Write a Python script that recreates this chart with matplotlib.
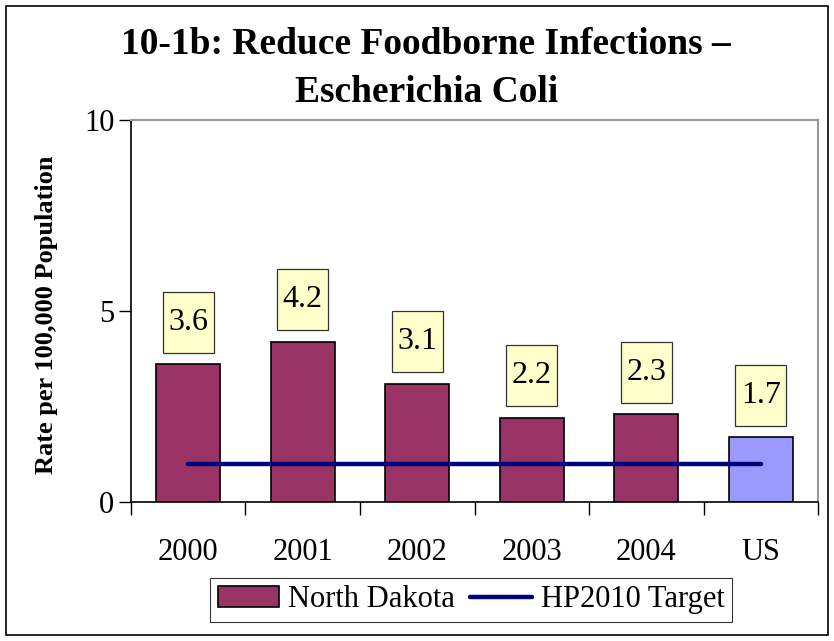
import matplotlib
matplotlib.use("Agg")
import matplotlib.pyplot as plt
from matplotlib.patches import Rectangle, Patch
from matplotlib.lines import Line2D
from matplotlib.transforms import ScaledTranslation
import numpy as np

categories = ["2000", "2001", "2002", "2003", "2004", "US"]
rates = [3.6, 4.2, 3.1, 2.2, 2.3, 1.7]
target = [1.0, 1.0, 1.0, 1.0, 1.0, 1.0]
bar_colors = ["#993366"] * 5 + ["#9999FF"]

plt.rcParams["font.family"] = ["Liberation Serif", "DejaVu Serif"]

fig = plt.figure(figsize=(8.34, 6.41), dpi=100)
ax = fig.add_axes([0.157, 0.2168, 0.824, 0.596])

x = np.arange(len(categories))
ax.bar(x, rates, width=0.56, color=bar_colors, edgecolor="black", linewidth=1.2, zorder=2)
ax.plot(x, target, color="#000080", lw=3.2, solid_capstyle="round", zorder=3)

# yellow value boxes: sized in inches, anchored at the bar top
for xi, v in zip(x, rates):
    tr = fig.dpi_scale_trans + ScaledTranslation(xi, v, ax.transData)
    ax.add_patch(Rectangle((-0.255, 0.115), 0.51, 0.61, transform=tr, fc="#FFFFCC",
                           ec="#333333", lw=0.9, zorder=4, clip_on=False))
    ax.text(0, 0.42, f"{v}", transform=tr, ha="center", va="center", fontsize=23, zorder=5)

ax.set_xlim(-0.5, len(categories) - 0.5)
ax.set_ylim(0, 10)
ax.set_yticks([0, 5, 10])
ax.set_xticks(x)
ax.set_xticklabels(categories, fontsize=22)
ax.set_xticks(np.arange(len(categories) + 1) - 0.5, minor=True)
ax.tick_params(axis="x", which="major", length=0, pad=26)
ax.tick_params(axis="x", which="minor", length=9, width=1, direction="out")
ax.tick_params(axis="y", length=9, width=1, labelsize=22, pad=3)
for s in ["top", "right"]:
    ax.spines[s].set_color("#999999")
    ax.spines[s].set_linewidth(1.5)
for s in ["left", "bottom"]:
    ax.spines[s].set_linewidth(1.2)

fig.text(0.056, 0.509, "Rate per 100,000 Population", rotation=90, ha="center", va="center",
         fontsize=19, fontweight="bold")

fig.text(0.511, 0.916, "10-1b: Reduce Foodborne Infections \u2013", ha="center", va="baseline",
         fontsize=27, fontweight="bold")
fig.text(0.511, 0.841, "Escherichia Coli", ha="center", va="baseline",
         fontsize=27, fontweight="bold")

handles = [Patch(fc="#993366", ec="black", lw=1.2),
           Line2D([], [], color="#000080", lw=3.2, solid_capstyle="round")]
leg = fig.legend(handles, ["North Dakota", "HP2010 Target"], loc="center",
                 bbox_to_anchor=(0.565, 0.064), ncol=2, fontsize=22,
                 frameon=True, fancybox=False, edgecolor="black", handlelength=2.0,
                 handletextpad=0.3, columnspacing=0.5, borderpad=0.25)
leg.get_frame().set_linewidth(0.8)

fig.patches.append(Rectangle((0.007, 0.009), 0.986, 0.982, transform=fig.transFigure,
                             fill=False, edgecolor="black", lw=1.2))

fig.savefig("out.png", dpi=100)
